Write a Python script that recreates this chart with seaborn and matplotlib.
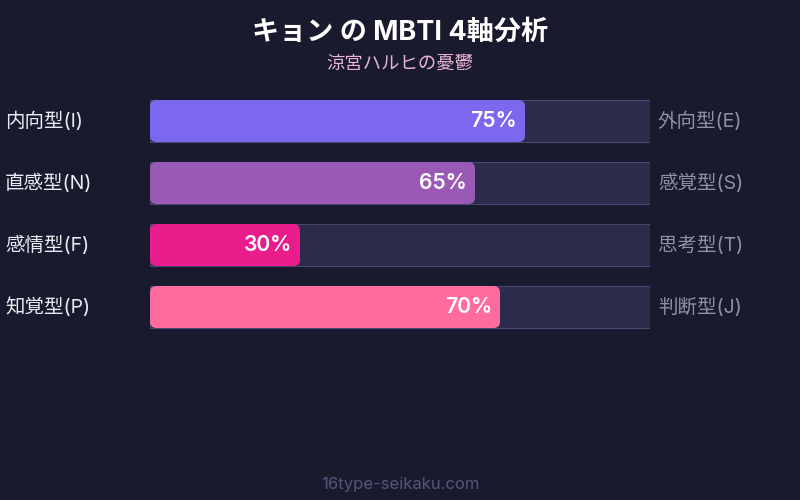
import matplotlib
matplotlib.use("Agg")
import matplotlib.pyplot as plt
from matplotlib.patches import FancyBboxPatch
import seaborn as sns
import pandas as pd

# ---- data ----
left_labels = ["内向型(I)", "直感型(N)", "感情型(F)", "知覚型(P)"]
right_labels = ["外向型(E)", "感覚型(S)", "思考型(T)", "判断型(J)"]
values = [75, 65, 30, 70]
bar_colors = ["#7b68ee", "#9b59b6", "#e91e8c", "#ff6b9d"]
title = "キョン の MBTI 4軸分析"
subtitle = "涼宮ハルヒの憂鬱"
footer = "16type-seikaku.com"

BG = "#1a1a2e"
TRACK = "#2d2b4a"
TRACK_EDGE = "#4a4870"

sns.set_theme(style="white")
plt.rcParams["font.family"] = ["Inter", "Noto Sans CJK JP", "DejaVu Sans"]

df = pd.DataFrame({"axis": left_labels, "value": values, "full": [100] * len(values)})

fig = plt.figure(figsize=(8, 5), dpi=100, facecolor=BG)
ax = fig.add_axes([150 / 800, 1 - 338 / 500, 500 / 800, 248 / 500])
ax.set_facecolor(BG)

bar_h = 42 / 62
# track
sns.barplot(data=df, y="axis", x="full", orient="h", color=TRACK, width=bar_h,
            edgecolor=TRACK_EDGE, linewidth=0.8, ax=ax, saturation=1)
n_track = len(ax.patches)
# value bars
sns.barplot(data=df, y="axis", x="value", orient="h", hue="axis",
            palette=bar_colors, width=bar_h, legend=False, ax=ax, saturation=1)

# round the value bars
aspect = (1 / 62) / (1 / 5)
for p in list(ax.patches)[n_track:]:
    x, y = p.get_x(), p.get_y()
    w, h = p.get_width(), p.get_height()
    if w <= 0:
        continue
    fc = p.get_facecolor()
    p.remove()
    fb = FancyBboxPatch((x, y), w, h,
                        boxstyle="round,pad=0,rounding_size=1.3",
                        mutation_aspect=aspect, facecolor=fc,
                        edgecolor="none", zorder=3)
    ax.add_patch(fb)

ax.set_xlim(0, 100)
ax.set_ylim(3.5, -0.5)
ax.set_axis_off()

for i, (lab, rlab, v) in enumerate(zip(left_labels, right_labels, values)):
    ax.text(v - 1.6, i, f"{v}%", ha="right", va="center", color="white",
            fontsize=15.2, fontweight="semibold", zorder=5)
    fig.text(5 / 800, 1 - (121 + 62 * i) / 500, lab, ha="left", va="center",
             color="#ececf4", fontsize=14)
    fig.text(658 / 800, 1 - (121 + 62 * i) / 500, rlab, ha="left", va="center",
             color="#9090a8", fontsize=14)

fig.text(0.5, 1 - 33 / 500, title, ha="center", va="center", color="white",
         fontsize=19.5, fontweight="bold")
fig.text(0.5, 1 - 64 / 500, subtitle, ha="center", va="center", color="#e8b4d4",
         fontsize=13.2)
fig.text(0.5, 1 - 484 / 500, footer, ha="center", va="center", color="#55557a",
         fontsize=12)

fig.savefig("out.png", dpi=100, facecolor=BG)
